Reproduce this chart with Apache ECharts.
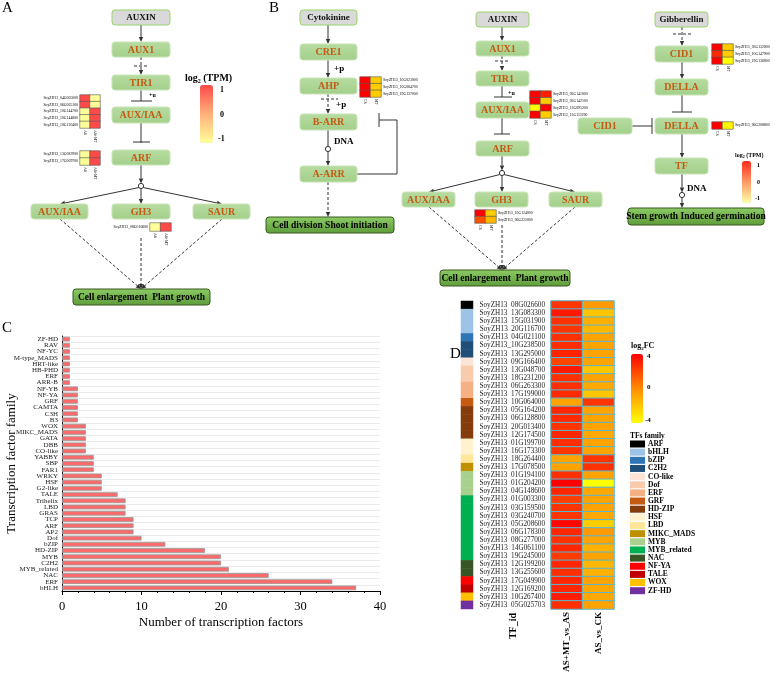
<!DOCTYPE html>
<html><head><meta charset="utf-8">
<script src="https://cdn.jsdelivr.net/npm/echarts@6/dist/echarts.min.js"></script>
<style>html,body{margin:0;padding:0;background:#fff}#c{width:777px;height:673px}</style>
</head><body><div id="c"></div>
<script>
// ================= DATA =================
// Panel C: TF family counts (top -> bottom)
const tfFamilies = ['ZF-HD','RAV','NF-YC','M-type_MADS','HRT-like','HB-PHD','ERF','ARR-B','NF-YB','NF-YA','GRF','CAMTA','C3H','B3','WOX','MIKC_MADS','GATA','DBB','CO-like','YABBY','SBP','FAR1','WRKY','HSF','G2-like','TALE','Trihelix','LBD','GRAS','TCP','ARF','AP2','Dof','bZIP','HD-ZIP','MYB','C2H2','MYB_related','NAC','ERF','bHLH'];
const tfCounts = [1,1,1,1,1,1,1,1,2,2,2,2,2,2,3,3,3,3,3,4,4,4,5,5,5,7,8,8,8,9,9,9,10,13,18,20,20,21,26,34,37];
const cTicks = [0,10,20,30,40];

// Panel D: DE TF heatmap
const degIds = ['SoyZH13  08G026600','SoyZH13  13G083300','SoyZH13  15G031900','SoyZH13  20G116700','SoyZH13  04G021100','SoyZH13_10G238500','SoyZH13  13G295000','SoyZH13  09G166400','SoyZH13  13G048700','SoyZH13  18G231200','SoyZH13  06G263300','SoyZH13  17G199000','SoyZH13  10G064000','SoyZH13  05G164200','SoyZH13  06G128800','SoyZH13  20G013400','SoyZH13  12G174500','SoyZH13  01G199700','SoyZH13  16G173300','SoyZH13  18G264400','SoyZH13  17G078500','SoyZH13  01G194100','SoyZH13  01G204200','SoyZH13  04G148600','SoyZH13  01G003300','SoyZH13  03G159500','SoyZH13  03G240700','SoyZH13  05G208600','SoyZH13  06G178300','SoyZH13  08G277000','SoyZH13  14G061100','SoyZH13  19G245000','SoyZH13  12G199200','SoyZH13  13G255600','SoyZH13  17G049900','SoyZH13  12G169200','SoyZH13  10G267400','SoyZH13  05G025703'];
const familyNames = ['ARF','bHLH','bZIP','C2H2','CO-like','Dof','ERF','GRF','HD-ZIP','HSF','LBD','MIKC_MADS','MYB','MYB_related','NAC','NF-YA','TALE','WOX','ZF-HD'];
const degFamily = [0,1,1,1,2,3,3,4,5,5,6,6,7,8,8,8,8,9,9,10,11,12,12,12,13,13,13,13,13,13,13,13,14,14,15,16,17,18];
const degComparisons = ['AS+MT_vs_AS','AS_vs_CK'];
const fcMtVsAs = [2.5,3.3,2.6,2.5,2.6,2.7,3.0,2.0,3.3,2.6,2.6,2.8,-0.8,2.9,2.8,2.5,2.9,2.7,2.5,-0.8,-0.8,2.6,4.0,2.9,2.2,2.5,2.5,3.8,2.9,2.6,2.9,2.3,2.9,2.7,2.9,2.9,3.2,2.6];
const fcAsVsCk = [-0.5,-2.0,-1.2,-1.5,-0.8,-0.8,-0.8,-0.8,-2.0,-0.8,-1.0,-2.0,2.5,-0.8,-0.8,-0.8,-1.0,-0.8,-0.8,2.5,2.6,-0.8,-4.0,-1.0,-0.8,-0.8,-1.0,-2.3,-0.5,-0.8,-1.3,-0.8,-1.5,-1.3,-0.8,-1.0,-1.0,-0.8];
const fcTicks = ['4','0','-4'];

// Panel A: small heatmaps (columns AS, AS+MT), log2(TPM) scaled
const aCols = ['AS','AS+MT'];
const aAuxIaaIds = ['SoyZH13_04G065000','SoyZH13_06G065100','SoyZH13_10G144700','SoyZH13_10G144800','SoyZH13_10G130400'];
const aAuxIaaVals = [[1,-1],[1,-1],[-1,1],[-1,1],[-1,1]];
const aArfIds = ['SoyZH13_13G083900','SoyZH13_17G069700'];
const aArfVals = [[-1,1],[-1,1]];
const aGh3Ids = ['SoyZH13_08G016600'];
const aGh3Vals = [[-1,1]];
const tpmTicks = ['1','0','-1'];

// Panel B: small heatmaps (columns CS, MT)
const bCols = ['CS','MT'];
const bAhpIds = ['SoyZH13_10G023000','SoyZH13_10G084700','SoyZH13_19G137000'];
const bAhpVals = [[1,0],[1,0],[1,0]];
const bAuxIaaIds = ['SoyZH13_03G141000','SoyZH13_03G142100','SoyZH13_13G095200','SoyZH13_13G113200'];
const bAuxIaaVals = [[1,0.85],[1,0],[-1,1],[1,0]];
const bGh3Ids = ['SoyZH13_10G124000','SoyZH13_06G225000'];
const bGh3Vals = [[1,0],[0.6,0.1]];
const bCid1Ids = ['SoyZH13_03G132800','SoyZH13_10G147900','SoyZH13_19G136800'];
const bCid1Vals = [[1,0],[0.8,0],[1,-1]];
const bDellaIds = ['SoyZH13_06G208800'];
const bDellaVals = [[1,-0.8]];

// ================= STYLE / LAYOUT =================
const SERIF = '"Liberation Serif", "Times New Roman", serif';
const familyColors = ['#000000','#9dc3e6','#2e75b6','#1f4e79','#fce4d6','#f8cbad','#f4b183','#c55a11','#843c0c','#fff2cc','#ffe699','#bf9000','#a9d18e','#00b050','#375623','#ff0000','#c00000','#ffc000','#7030a0'];

const grids = [], xAxes = [], yAxes = [], series = [];
function addGrid(g){ g.outerBoundsMode = 'none'; g.containLabel = false; grids.push(g); return grids.length-1; }

// ---- C: bar chart ----
addGrid({left:62, top:336, width:318, height:255});
xAxes.push({type:'value', gridIndex:0, min:0, max:40, interval:10,
  axisLine:{show:true, lineStyle:{color:'#000', width:1}},
  axisTick:{show:true, length:4, lineStyle:{color:'#000'}},
  minorTick:{show:true, splitNumber:5, length:2, lineStyle:{color:'#000'}},
  splitLine:{show:false},
  axisLabel:{fontSize:12.5, fontFamily:SERIF, color:'#000', margin:9, formatter:v=>cTicks.includes(v)?String(v):''},
  name:'Number of transcription factors', nameLocation:'middle', nameGap:25, nameMoveOverlap:false,
  nameTextStyle:{fontSize:13, fontFamily:SERIF, color:'#000'}});
yAxes.push({type:'category', gridIndex:0, data:tfFamilies, inverse:true,
  axisLine:{show:true, lineStyle:{color:'#000', width:1}}, axisTick:{show:false},
  axisLabel:{fontSize:7, fontFamily:SERIF, color:'#222', margin:4, interval:0},
  splitLine:{show:true, lineStyle:{color:'#e4e4e4', width:0.8}},
  name:'Transcription factor family', nameLocation:'middle', nameGap:44, nameMoveOverlap:false,
  nameTextStyle:{fontSize:13, fontFamily:SERIF, color:'#000'}});
series.push({type:'bar', xAxisIndex:0, yAxisIndex:0, data:tfCounts, barCategoryGap:'24%',
  itemStyle:{color:'#fb6b6b', borderColor:'#999', borderWidth:0.8}});

// ---- D: heatmap ----
addGrid({left:551, top:301, width:63, height:308});
xAxes.push({type:'category', gridIndex:1, data:degComparisons, axisLine:{show:false}, axisTick:{show:false}, splitLine:{show:false},
  axisLabel:{rotate:90, fontSize:9, fontWeight:'bold', fontFamily:SERIF, color:'#000', margin:3, interval:0}});
yAxes.push({type:'category', gridIndex:1, data:degIds, inverse:true, axisLine:{show:false}, axisTick:{show:false}, splitLine:{show:false},
  axisLabel:{fontSize:7.2, fontFamily:SERIF, color:'#222', margin:6, interval:0}});
const dData = [];
degIds.forEach((id,i)=>{ dData.push([0,i,fcMtVsAs[i]]); dData.push([1,i,fcAsVsCk[i]]); });
series.push({type:'heatmap', xAxisIndex:1, yAxisIndex:1, data:dData, itemStyle:{borderColor:'#5ab6d2', borderWidth:1}});

// ---- D: family strip ----
addGrid({left:461, top:301, width:12, height:308});
xAxes.push({type:'category', gridIndex:2, data:['family'], show:false});
yAxes.push({type:'category', gridIndex:2, data:degIds, inverse:true, show:false});
series.push({type:'heatmap', xAxisIndex:2, yAxisIndex:2, data:degIds.map((id,i)=>[0,i,degFamily[i]])});

// ---- small heatmaps ----
function smallHeat(ids, cols, vals, left, top, w, h, side){
  const gi = addGrid({left, top, width:w, height:h});
  xAxes.push({type:'category', gridIndex:gi, data:cols, axisLine:{show:false}, axisTick:{show:false}, splitLine:{show:false},
    axisLabel:{fontSize:3.8, rotate:-90, margin:2, fontFamily:SERIF, color:'#000', interval:0}});
  yAxes.push({type:'category', gridIndex:gi, data:ids, inverse:true, position:side, axisLine:{show:false}, axisTick:{show:false}, splitLine:{show:false},
    axisLabel:{fontSize:3.8, margin:2, fontFamily:SERIF, color:'#000', interval:0}});
  const d = [];
  vals.forEach((row,r)=>row.forEach((v,c)=>d.push([c,r,v])));
  series.push({type:'heatmap', xAxisIndex:gi, yAxisIndex:gi, data:d, itemStyle:{borderColor:'#555', borderWidth:0.6}});
  return series.length-1;
}
const aIdx = [
  smallHeat(aAuxIaaIds, aCols, aAuxIaaVals, 80, 95, 20, 33, 'left'),
  smallHeat(aArfIds, aCols, aArfVals, 80, 151, 20, 14, 'left'),
  smallHeat(aGh3Ids, aCols, aGh3Vals, 150, 223, 21, 8, 'left')
];
const bIdx = [
  smallHeat(bAhpIds, bCols, bAhpVals, 360, 77, 21, 20, 'right'),
  smallHeat(bAuxIaaIds, bCols, bAuxIaaVals, 530, 91, 21, 27, 'right'),
  smallHeat(bGh3Ids, bCols, bGh3Vals, 475, 210, 21, 13, 'right'),
  smallHeat(bCid1Ids, bCols, bCid1Vals, 712, 44, 21, 20, 'right'),
  smallHeat(bDellaIds, bCols, bDellaVals, 712, 122, 21, 7, 'right')
];

// ---- visualMaps ----
const visualMap = [
  {type:'continuous', seriesIndex:[1], min:-4, max:4, left:631, top:354, itemWidth:12, itemHeight:69, padding:0,
    calculable:false, hoverLink:false, inRange:{color:['#ffff00','#ff8c00','#ff0000']}},
  {type:'piecewise', seriesIndex:[2], dimension:2, left:630, top:440, orient:'vertical', inverse:true, align:'left',
    itemWidth:15, itemHeight:7, itemGap:0.15,
    itemSymbol:'rect', textGap:3, padding:0, selectedMode:false, hoverLink:false,
    textStyle:{fontSize:7.5, fontWeight:'bold', fontFamily:SERIF, color:'#000'},
    pieces: familyNames.map((f,i)=>({value:i, label:f, color:familyColors[i]}))},
  {type:'continuous', seriesIndex:aIdx, min:-1, max:1, left:200, top:85, itemWidth:13, itemHeight:58, padding:0,
    calculable:false, hoverLink:false, inRange:{color:['#ffff99','#ffb07a','#ff4a4a']}},
  {type:'continuous', seriesIndex:bIdx, min:-1, max:1, show:false, inRange:{color:['#ffff00','#ffcc00','#ff0000']}},
  {type:'continuous', seriesIndex:[], min:-1, max:1, left:742, top:161, itemWidth:9, itemHeight:42, padding:0,
    calculable:false, hoverLink:false, inRange:{color:['#ffffaa','#ff9a66','#ff2a1a']}}
];

// ---- diagram graphics ----
const G = [];
const LC = '#333';
function txt(x,y,t,size,opt){
  opt = opt||{};
  G.push({type:'text', x, y, rotation:opt.rot||0, z:12, style:{text:t, fill:opt.color||'#000', fontSize:size, fontWeight:opt.weight||'bold',
    fontFamily:SERIF, align:opt.align||'left', verticalAlign:opt.va||'middle', rich:opt.rich}});
}
function box(x,y,w,h,label,kind){
  let fill, stroke, color='#c55a11', size=10;
  if(kind==='src'){ fill='#d9d9d9'; stroke='#9bd36a'; color='#111'; size=9; }
  else if(kind==='out'){ fill={type:'linear',x:0,y:0,x2:0,y2:1,colorStops:[{offset:0,color:'#8ccb65'},{offset:1,color:'#5e9c3a'}]}; stroke='#38591f'; color='#000'; size=9.5; }
  else { fill={type:'linear',x:0,y:0,x2:0,y2:1,colorStops:[{offset:0,color:'#b7dca1'},{offset:1,color:'#a3cf8a'}]}; stroke='#c8e4b8'; }
  G.push({type:'rect', z:10, shape:{x,y,width:w,height:h,r:3}, style:{fill, stroke, lineWidth:1}});
  txt(x+w/2, y+h/2+0.5, label, size, {color, align:'center'});
}
function line(x1,y1,x2,y2,dashed){
  G.push({type:'line', z:9, shape:{x1,y1,x2,y2}, style:{stroke:LC, lineWidth:1, lineDash:dashed?[3,2]:null}});
}
function arrow(x1,y1,x2,y2,dashed){
  const a=Math.atan2(y2-y1,x2-x1), L=5, W=2.2;
  const bx=x2-L*Math.cos(a), by=y2-L*Math.sin(a);
  line(x1,y1,bx,by,dashed);
  G.push({type:'polygon', z:9, shape:{points:[[x2,y2],[bx+W*Math.sin(a),by-W*Math.cos(a)],[bx-W*Math.sin(a),by+W*Math.cos(a)]]}, style:{fill:LC}});
}
function circ(cx,cy){ G.push({type:'circle', z:10, shape:{cx,cy,r:2.6}, style:{fill:'#fff', stroke:LC, lineWidth:1}}); }

// panel letters
txt(2,8,'A',15,{weight:'normal'}); txt(269,8,'B',15,{weight:'normal'});
txt(2,328,'C',15,{weight:'normal'}); txt(450,354,'D',15,{weight:'normal'});

// Panel A
box(112,10,58,15,'AUXIN','src'); arrow(141,25,141,42);
box(112,42,58,15,'AUX1'); arrow(141,57,141,75,true); line(134,66,149,66,true);
box(112,75,58,15,'TIR1'); line(141,90,141,101); line(131,101,152,101); txt(149,95,'+u',6);
box(112,107,58,16,'AUX/IAA'); line(141,123,141,143); line(133,142,150,142);
box(112,150,58,15,'ARF'); arrow(141,165,141,183.4); circ(141,186);
arrow(139,187.5,60,204); arrow(141,188.6,141,204); arrow(143,187.5,222,204);
box(31,204,57,15,'AUX/IAA'); box(112,204,58,15,'GH3'); box(193,204,57,15,'SAUR');
arrow(60,219,141,289,true); arrow(141,238,141,289,true); arrow(222,219,141,289,true);
box(73,289,137,16,'Cell enlargement  Plant growth','out');
txt(185,78,'{a|log}{s|2}{a| (TPM)}',10,{rich:{a:{fontSize:10,fontWeight:'bold',fontFamily:SERIF},s:{fontSize:6,fontWeight:'bold',fontFamily:SERIF,verticalAlign:'bottom',padding:[6,0,0,0]}}});
txt(220,90,tpmTicks[0],8); txt(220,115,tpmTicks[1],8); txt(218,139,tpmTicks[2],8);

// Panel B: cytokinin
box(300,10,57,15,'Cytokinine','src'); arrow(328,25,328,44);
box(300,44,57,16,'CRE1'); arrow(328,60,328,78); txt(334,69,'+p',9);
box(300,78,57,16,'AHP'); arrow(328,94,328,114,true); line(321,99,338,99,true); txt(336,105,'+p',9);
box(300,114,57,16,'B-ARR'); line(328,130,328,146.4); txt(334,142,'DNA',9); circ(328,149); arrow(328,151.6,328,166);
box(300,166,57,16,'A-ARR');
G.push({type:'polyline', z:9, shape:{points:[[357,174],[397,174],[397,120],[379,120]]}, style:{stroke:LC, lineWidth:1, fill:null}});
line(379,113,379,127);
arrow(328,182,328,217,true);
box(266,217,128,16,'Cell division Shoot initiation','out');

// Panel B: auxin
box(476,12,53,15,'AUXIN','src'); arrow(502,27,502,41);
box(476,41,53,15,'AUX1'); arrow(502,56,502,71,true); line(495,61,510,61,true);
box(476,71,53,15,'TIR1'); line(502,86,502,97); line(494,97,512,97); txt(508,93,'+u',6);
box(476,102,53,16,'AUX/IAA'); line(502,118,502,134); line(494,134,510,134);
box(476,141,53,15,'ARF'); arrow(502,156,502,170.4); circ(502,173);
arrow(500,174.5,429,192); arrow(502,175.6,502,192); arrow(504,174.5,575,192);
box(402,192,53,15,'AUX/IAA'); box(475,192,53,15,'GH3'); box(549,192,53,15,'SAUR');
arrow(429,207,502,270,true); arrow(502,225,502,270,true); arrow(575,207,502,270,true);
box(440,270,130,16,'Cell enlargement  Plant growth','out');

// Panel B: gibberellin
box(655,12,53,15,'Gibberellin','src'); arrow(682,27,682,46,true); line(673,34,692,34,true);
box(655,46,53,16,'CID1'); arrow(682,62,682,79);
box(655,79,53,16,'DELLA'); line(682,95,682,112); line(672,112,692,112);
box(655,118,53,16,'DELLA'); box(578,118,54,16,'CID1');
line(632,126,652,126); line(652,118,652,134);
arrow(682,134,682,158);
box(655,158,53,16,'TF'); arrow(682,174,682,192.4); txt(687,189,'DNA',9); circ(682,195); arrow(682,197.6,682,208);
box(628,208,136,17,'Stem growth Induced germination','out');
txt(735,155,'{a|log}{s|2}{a| (TPM)}',6,{rich:{a:{fontSize:6,fontWeight:'bold',fontFamily:SERIF},s:{fontSize:4,fontWeight:'bold',fontFamily:SERIF,verticalAlign:'bottom',padding:[4,0,0,0]}}});
txt(757,165,tpmTicks[0],6); txt(757,182,tpmTicks[1],6); txt(755,198,tpmTicks[2],6);

// Panel D extras
txt(631,346,'{a|log}{s|2}{a|FC}',8,{rich:{a:{fontSize:8,fontWeight:'bold',fontFamily:SERIF},s:{fontSize:5,fontWeight:'bold',fontFamily:SERIF,verticalAlign:'bottom',padding:[5,0,0,0]}}});
txt(647,356,fcTicks[0],7); txt(647,387,fcTicks[1],7); txt(645,420,fcTicks[2],7);
txt(630,436,'TFs family',7.5);
txt(513,613,'TF_id',10,{rot:Math.PI/2, align:'right'});

const chart = echarts.init(document.getElementById('c'), null, {renderer:'canvas'});
chart.setOption({
  backgroundColor:'#fff', animation:false,
  grid:grids, xAxis:xAxes, yAxis:yAxes, series, visualMap, graphic:{elements:G}
});
</script></body></html>
